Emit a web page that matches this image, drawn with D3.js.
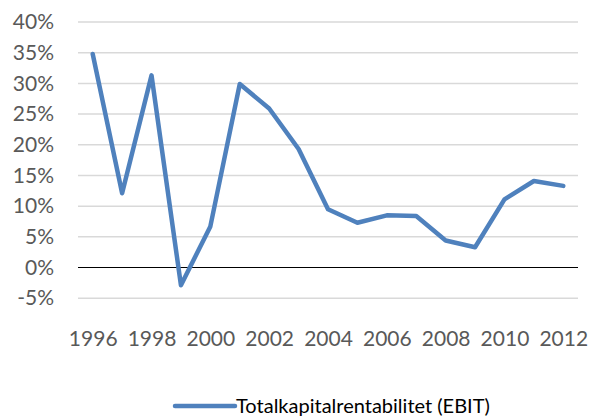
<!DOCTYPE html>
<html>
<head>
<meta charset="utf-8">
<script src="https://cdn.jsdelivr.net/npm/d3@7"></script>
<style>
  html, body { margin: 0; padding: 0; background: #fff; }
  svg { display: block; font-family: Lato, "Open Sans", sans-serif; }
</style>
</head>
<body>
<svg id="chart" width="589" height="418"></svg>
<script>
// Totalkapitalrentabilitet (EBIT), 1996–2012, values in %
const years = [1996, 1997, 1998, 1999, 2000, 2001, 2002, 2003, 2004, 2005, 2006, 2007, 2008, 2009, 2010, 2011, 2012];
const ebit = [34.8, 12.1, 31.3, -2.9, 6.7, 29.9, 25.9, 19.3, 9.5, 7.3, 8.5, 8.4, 4.4, 3.3, 11.1, 14.1, 13.3];
const yTicks = [-5, 0, 5, 10, 15, 20, 25, 30, 35, 40];
const xLabels = [1996, 1998, 2000, 2002, 2004, 2006, 2008, 2010, 2012];
const seriesName = 'Totalkapitalrentabilitet (EBIT)';

const svg = d3.select('#chart');
const plotL = 78, plotR = 578, plotT = 22, plotB = 298.2;
const color = '#4F81BD', textCol = '#595959';

const x = d3.scalePoint().domain(years).range([plotL, plotR]).padding(0.5);
const y = d3.scaleLinear().domain([-5, 40]).range([plotB, plotT]);

// gridlines
svg.append('g').selectAll('line').data(yTicks.filter(t => t !== 0)).enter().append('line')
  .attr('x1', plotL).attr('x2', plotR)
  .attr('y1', d => y(d)).attr('y2', d => y(d))
  .attr('stroke', '#D9D9D9').attr('stroke-width', 1.5);

// y labels
const yAxis = svg.append('g').attr('transform', `translate(${plotL - 24},0)`)
  .call(d3.axisLeft(y).tickValues(yTicks).tickSize(0).tickPadding(0).tickFormat(d => d + '%'));
yAxis.select('.domain').remove();
yAxis.selectAll('text').attr('fill', textCol).style('font-size', '21px').style('font-family', 'Lato');

// zero line
svg.append('line').attr('x1', plotL).attr('x2', plotR)
  .attr('y1', y(0)).attr('y2', y(0)).attr('stroke', '#000').attr('stroke-width', 1);

// x labels
const xAxis = svg.append('g').attr('transform', `translate(0,${plotB})`)
  .call(d3.axisBottom(x).tickValues(xLabels).tickSize(0).tickPadding(33));
xAxis.select('.domain').remove();
xAxis.selectAll('text').attr('fill', textCol).style('font-size', '21px').style('font-family', 'Lato');

// series line
const line = d3.line().x((d, i) => x(years[i])).y(d => y(d));
svg.append('path').datum(ebit)
  .attr('d', line).attr('fill', 'none')
  .attr('stroke', color).attr('stroke-width', 4.5)
  .attr('stroke-linejoin', 'round').attr('stroke-linecap', 'round');

// legend
const lg = svg.append('g').attr('transform', 'translate(175,406)');
lg.append('line').attr('x1', 0).attr('x2', 60).attr('y1', 0).attr('y2', 0)
  .attr('stroke', color).attr('stroke-width', 4.5).attr('stroke-linecap', 'round');
lg.append('text').attr('x', 61).attr('y', 0).attr('dy', '0.35em')
  .attr('fill', '#000').style('font-size', '20px').text(seriesName);
</script>
</body>
</html>
